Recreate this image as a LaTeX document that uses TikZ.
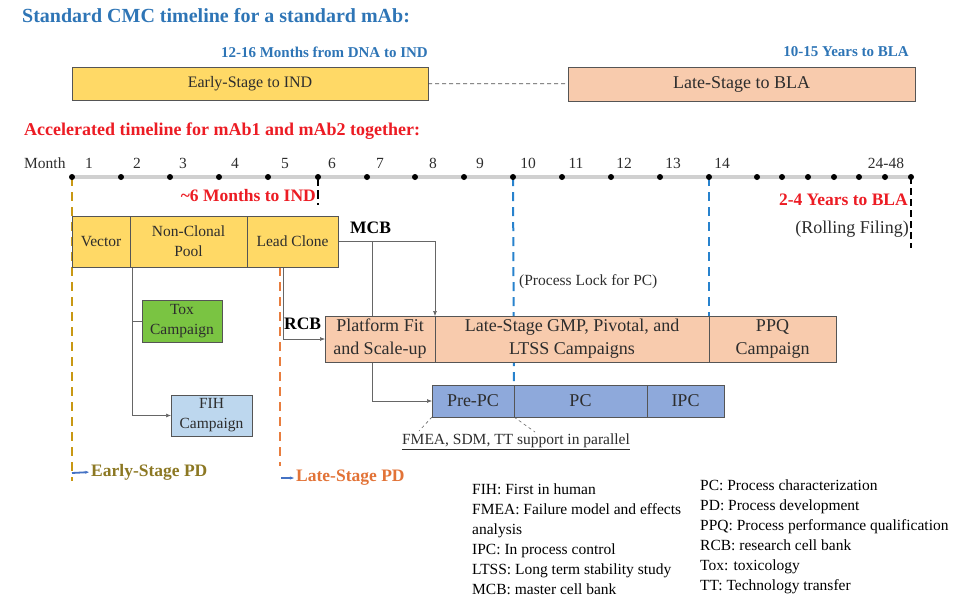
\documentclass[tikz,border=0pt]{standalone}
\usepackage{fontspec}
\setmainfont{Liberation Serif}
\usetikzlibrary{arrows.meta,positioning,backgrounds}

\definecolor{cmcblue}{RGB}{46,117,182}
\definecolor{cmcred}{RGB}{236,28,36}
\definecolor{earlyfill}{RGB}{255,217,102}
\definecolor{latefill}{RGB}{248,203,173}
\definecolor{toxfill}{RGB}{122,196,66}
\definecolor{fihfill}{RGB}{189,215,238}
\definecolor{pcfill}{RGB}{142,169,219}
\definecolor{boxedge}{RGB}{85,85,85}
\definecolor{axisgray}{RGB}{208,208,208}
\definecolor{earlyline}{RGB}{200,152,20}
\definecolor{lateline}{RGB}{232,125,62}
\definecolor{lockblue}{RGB}{40,130,205}
\definecolor{earlytext}{RGB}{140,120,35}
\definecolor{latetext}{RGB}{226,115,55}
\definecolor{pdarrow}{RGB}{68,114,196}
\definecolor{txtgray}{RGB}{45,45,45}

\newcommand{\tlbody}{\fontsize{15.5}{20}\selectfont}
\newcommand{\tlbox}{\fontsize{18}{23}\selectfont}
\newcommand{\tlhead}{\fontsize{15}{18}\selectfont\bfseries}
\newcommand{\tlbig}{\fontsize{17.5}{20}\selectfont\bfseries}

\tikzset{
  stage/.style={draw=boxedge, line width=0.9pt, inner sep=0pt, outer sep=0pt,
                align=center, font=\tlbody, text=txtgray, anchor=north west},
  txt/.style={inner sep=0pt, font=\tlbody, text=txtgray},
  conn/.style={draw=gray!80!black, line width=0.6pt},
  tip/.style={-{Latex[length=5pt,width=4pt]}},
  pddash/.style={line width=2pt, dash pattern=on 9pt off 6pt},
  pdarrow/.style={draw=pdarrow, line width=1.8pt, -{Stealth[length=4pt]}, shorten >=2pt}
}

\begin{document}
\begin{tikzpicture}[x=1pt,y=-1pt]
    \useasboundingbox (0,0) rectangle (964,598);
    \def\axisy{177}

    % Standard timeline
    \node[txt, anchor=west, font=\fontsize{20}{22}\selectfont\bfseries, text=cmcblue] (stdtitle) at (22,16) {Standard CMC timeline for a standard mAb:};
    \node[txt, anchor=east, font=\tlhead, text=cmcblue] (indtime) at (428,52) {12-16 Months from DNA to IND};
    \node[txt, anchor=east, font=\tlhead, text=cmcblue] (blatime) at (909,52) {10-15 Years to BLA};
    \node[stage, fill=earlyfill, font=\fontsize{16}{20}\selectfont, minimum width=356pt, minimum height=33pt] (stdearly) at (72,67) {Early-Stage to IND};
    \node[stage, fill=latefill, font=\tlbox, minimum width=347pt, minimum height=34pt] (stdlate) at (568,67) {Late-Stage to BLA};
    \draw[gray!60!black, line width=0.8pt, dash pattern=on 4pt off 3pt] (stdearly) -- (stdlate);

    % Accelerated timeline
    \node[txt, anchor=west, font=\fontsize{18}{20}\selectfont\bfseries, text=cmcred] (acctitle) at (24,131) {Accelerated timeline for mAb1 and mAb2 together:};

    % Month axis
    \coordinate (m1) at (72,\axisy);
    \coordinate (m6) at (318,\axisy);
    \coordinate (m10) at (513,\axisy);
    \coordinate (m14) at (709,\axisy);
    \coordinate (mend) at (911,\axisy);
    \draw[axisgray, line width=3.5pt] (m1) -- (mend);
    \fill (72,\axisy) circle (3pt) (121,\axisy) circle (3pt) (170,\axisy) circle (3pt) (219,\axisy) circle (3pt);
    \fill (268,\axisy) circle (3pt) (318,\axisy) circle (3pt) (367,\axisy) circle (3pt) (415,\axisy) circle (3pt);
    \fill (464,\axisy) circle (3pt) (513,\axisy) circle (3pt) (562,\axisy) circle (3pt) (611,\axisy) circle (3pt);
    \fill (660,\axisy) circle (3pt) (709,\axisy) circle (3pt) (757,\axisy) circle (3pt) (782,\axisy) circle (3pt);
    \fill (808,\axisy) circle (3pt) (834,\axisy) circle (3pt) (859,\axisy) circle (3pt) (885,\axisy) circle (3pt);
    \fill (911,\axisy) circle (3pt);

    % Month labels
    \node[txt, anchor=west] (monthlbl) at (24,163) {Month};
    \node[txt] (n1) at (89,163) {1};
    \node[txt] (n2) at (137,163) {2};
    \node[txt] (n3) at (183,163) {3};
    \node[txt] (n4) at (235,163) {4};
    \node[txt] (n5) at (285,163) {5};
    \node[txt] (n6) at (332,163) {6};
    \node[txt] (n7) at (380,163) {7};
    \node[txt] (n8) at (433,163) {8};
    \node[txt] (n9) at (480,163) {9};
    \node[txt] (n10) at (528,163) {10};
    \node[txt] (n11) at (576,163) {11};
    \node[txt] (n12) at (624,163) {12};
    \node[txt] (n13) at (673,163) {13};
    \node[txt] (n14) at (722,163) {14};
    \node[txt] (n24) at (886,163) {24-48};

    % Milestones
    \node[txt, anchor=east, font=\tlbig, text=cmcred] (indacc) at (316,196) {\textasciitilde6 Months to IND};
    \node[txt, anchor=east, font=\tlbig, text=cmcred] (blaacc) at (908,200) {2-4 Years to BLA};
    \node[txt, anchor=east, font=\tlbox] (rolling) at (909,229) {(Rolling Filing)};
    \node[txt, anchor=west] (lock) at (519,282) {(Process Lock for PC)};

    % Early-stage boxes
    \node[stage, fill=earlyfill, minimum width=58pt, minimum height=51pt] (vector) at (72,216) {Vector};
    \node[stage, fill=earlyfill, minimum width=117pt, minimum height=51pt, right=0pt of vector] (pool) {Non-Clonal\\Pool};
    \node[stage, fill=earlyfill, minimum width=91pt, minimum height=51pt, right=0pt of pool] (lead) {Lead Clone};
    \node[stage, fill=toxfill, minimum width=80pt, minimum height=42pt] (tox) at (142,300) {Tox\\Campaign};
    \node[stage, fill=fihfill, minimum width=81pt, minimum height=41pt] (fih) at (171,395) {FIH\\Campaign};

    % Late-stage boxes
    \node[stage, fill=latefill, font=\tlbox, minimum width=110pt, minimum height=46pt] (platform) at (325,316) {Platform Fit\\and Scale-up};
    \node[stage, fill=latefill, font=\tlbox, minimum width=274pt, minimum height=46pt, right=0pt of platform] (lategmp) {Late-Stage GMP, Pivotal, and\\LTSS Campaigns};
    \node[stage, fill=latefill, font=\tlbox, minimum width=127pt, minimum height=46pt, right=0pt of lategmp] (ppq) {PPQ\\Campaign};
    \node[stage, fill=pcfill, font=\tlbox, minimum width=82pt, minimum height=32pt] (prepc) at (432,385) {Pre-PC};
    \node[stage, fill=pcfill, font=\tlbox, minimum width=133pt, minimum height=32pt, right=0pt of prepc] (pc) {PC};
    \node[stage, fill=pcfill, font=\tlbox, minimum width=77pt, minimum height=32pt, right=0pt of pc] (ipc) {IPC};

    % Cell banks
    \node[txt, anchor=west, font=\tlbig, text=black] (mcb) at (350,228) {MCB};
    \node[txt, anchor=west, font=\tlbig, text=black] (rcb) at (284,324) {RCB};

    % PD phases
    \node[txt, anchor=west, font=\tlbig, text=earlytext] (earlypd) at (91,472) {Early-Stage PD};
    \node[txt, anchor=west, font=\tlbig, text=latetext] (latepd) at (296,478) {Late-Stage PD};
    \coordinate (earlyend) at (72,481);
    \coordinate (earlyfoot) at (72,473);
    \coordinate (lateend) at (280,466);
    \coordinate (latefoot) at (281,478);
    \draw[pdarrow] (earlyfoot) -- (earlypd.west);
    \draw[pdarrow] (latefoot) -- (latepd.west);

    % Support note
    \node[txt] (support) at (516,442) {\underline{FMEA, SDM, TT support in parallel}};
    \coordinate (supportL) at (419,431);
    \coordinate (supportR) at (535,432);

    % Abbreviations
    \node[txt, anchor=north west, align=left, text=black] (legendL) at (472,484) {FIH: First in human\\FMEA: Failure model and effects\\analysis\\IPC: In process control\\LTSS: Long term stability study\\MCB: master cell bank};
    \node[txt, anchor=north west, align=left, text=black] (legendR) at (700,480) {PC: Process characterization\\PD: Process development\\PPQ: Process performance qualification\\RCB: research cell bank\\Tox: toxicology\\TT: Technology transfer};

    \begin{pgfonlayer}{background}
        % Dashed phase lines
        \draw[pddash, earlyline] (m1) -- (earlyend);
        \draw[pddash, lateline] ([xshift=33pt]lead.south west) -- (lateend);
        \draw[pddash, lockblue] (m10) -- (prepc.north east);
        \draw[pddash, lockblue] (m14) -- (lategmp.north east);
        \draw[line width=1.5pt, dash pattern=on 9pt off 4pt] (m6) -- ++(0,28);
        \draw[line width=1.8pt, dash pattern=on 7pt off 4pt] (mend) -- ++(0,71);

        % Connectors
        \draw[conn, tip] ([xshift=2pt]pool.south west) |- (fih.west);
        \draw[conn] ([xshift=2pt]pool.south west |- tox.west) -- (tox.west);
        \draw[conn, tip] ([xshift=36pt]lead.south west) |- (platform.west);
        \draw[conn, tip] (lead.east) -| (lategmp.north west);
        \draw[conn, tip] ([xshift=34pt]lead.east) |- (prepc.west);
        \draw[conn, dashed] (prepc.south west) -- (supportL);
        \draw[conn, dashed] (prepc.south east) -- (supportR);
    \end{pgfonlayer}
\end{tikzpicture}
\end{document}
